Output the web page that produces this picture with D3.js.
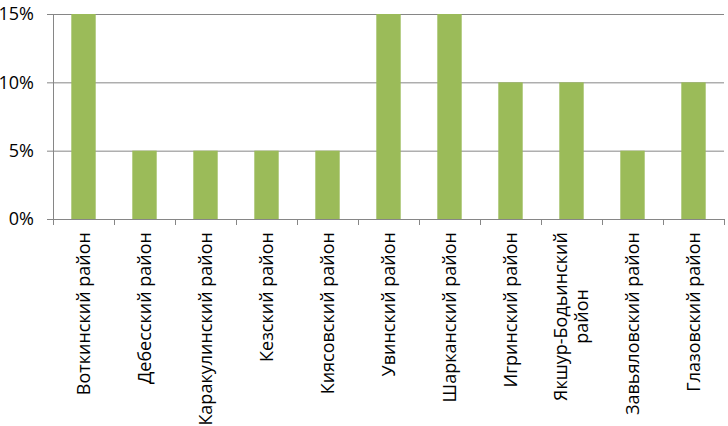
<!DOCTYPE html>
<html>
<head>
<meta charset="utf-8">
<script src="https://cdn.jsdelivr.net/npm/d3@7"></script>
<style>
  body { margin: 0; background: #fff; }
  text { font-family: "Open Sans", "Liberation Sans", sans-serif; fill: #000; }
</style>
</head>
<body>
<svg id="chart" width="728" height="426"></svg>
<script>
const districts = [
  ['Воткинский район'],
  ['Дебесский район'],
  ['Каракулинский район'],
  ['Кезский район'],
  ['Киясовский район'],
  ['Увинский район'],
  ['Шарканский район'],
  ['Игринский район'],
  ['Якшур-Бодьинский', 'район'],
  ['Завьяловский район'],
  ['Глазовский район']
];
const shares = [15, 5, 5, 5, 5, 15, 15, 10, 10, 5, 10];
const yTicks = [0, 5, 10, 15];

const svg = d3.select('#chart'),
  margin = { top: 14, right: 4, bottom: 207, left: 53 },
  width = 728 - margin.left - margin.right,
  height = 426 - margin.top - margin.bottom;

const g = svg.append('g').attr('transform', `translate(${margin.left},${margin.top})`);

const x = d3.scaleBand().domain(d3.range(districts.length)).range([0, width]).paddingInner(0.6).paddingOuter(0.3),
  y = d3.scaleLinear().domain([0, 15]).range([height, 0]);

// grid
g.selectAll('line.grid')
  .data(yTicks)
  .join('line')
  .attr('class', 'grid')
  .attr('x1', -6)
  .attr('x2', width)
  .attr('y1', d => y(d) + 0.5)
  .attr('y2', d => y(d) + 0.5)
  .attr('stroke', '#868686')
  .attr('stroke-width', 1);

g.selectAll('text.ylab')
  .data(yTicks)
  .join('text')
  .attr('class', 'ylab')
  .attr('x', -19)
  .attr('y', d => y(d))
  .attr('dy', '0.36em')
  .attr('text-anchor', 'end')
  .style('font-size', '18px')
  .text(d => d + '%');

// bars
g.selectAll('rect.bar')
  .data(shares)
  .join('rect')
  .attr('class', 'bar')
  .attr('x', (d, i) => x(i))
  .attr('y', d => y(d))
  .attr('width', x.bandwidth())
  .attr('height', d => height - y(d))
  .attr('fill', '#9BBB59');

// axes lines
g.append('line')
  .attr('x1', 0.5).attr('x2', 0.5)
  .attr('y1', 0).attr('y2', height + 6)
  .attr('stroke', '#868686');

const step = width / districts.length;
g.selectAll('line.xtick')
  .data(d3.range(districts.length + 1))
  .join('line')
  .attr('class', 'xtick')
  .attr('x1', i => Math.round(i * step) + 0.5)
  .attr('x2', i => Math.round(i * step) + 0.5)
  .attr('y1', height)
  .attr('y2', height + 6)
  .attr('stroke', '#868686');

// category labels (rotated, read bottom to top)
const lineH = 21;
const labels = g.selectAll('text.xlab')
  .data(districts)
  .join('text')
  .attr('class', 'xlab')
  .style('font-size', '18px')
  .attr('transform', (d, i) => {
    const cx = x(i) + x.bandwidth() / 2 - (d.length - 1) * lineH / 2;
    return `translate(${cx},${height + 13}) rotate(-90)`;
  });

labels.each(function (d) {
  const t = d3.select(this);
  const spans = d.map(s => t.append('tspan').text(s));
  const maxLen = d3.max(spans, s => s.node().getComputedTextLength());
  spans.forEach((s, k) => {
    s.attr('x', -maxLen / 2)
      .attr('text-anchor', 'middle')
      .attr('y', k * lineH)
      .attr('dy', '0.36em');
  });
});
</script>
</body>
</html>
